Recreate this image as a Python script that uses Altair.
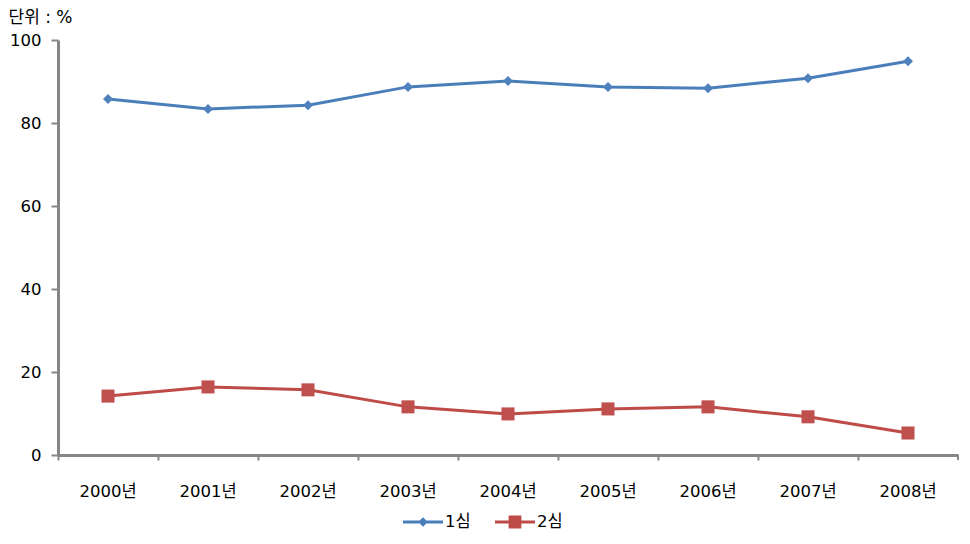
import altair as alt
import pandas as pd

years = ["2000년", "2001년", "2002년", "2003년", "2004년", "2005년", "2006년", "2007년", "2008년"]
first = [85.8, 83.4, 84.3, 88.7, 90.1, 88.7, 88.4, 90.8, 94.9]
second = [14.2, 16.4, 15.7, 11.6, 9.9, 11.1, 11.6, 9.2, 5.3]
series = ["1심", "2심"]

rows = []
for y, a, b in zip(years, first, second):
    rows.append({"year": y, "series": series[0], "value": a})
    rows.append({"year": y, "series": series[1], "value": b})
df = pd.DataFrame(rows)

colors = ["#4A7EBB", "#BE4B48"]
marker_colors = ["#4F81BD", "#C0504D"]
AXIS_GRAY = "#868686"
FONT = "DejaVu Sans, Noto Sans CJK KR"
X_TICK = 5

x_scale = alt.Scale(type="band", paddingInner=0, paddingOuter=0)
x_axis = alt.Axis(bandPosition=0, labelAngle=0, tickSize=X_TICK, tickWidth=2,
                  tickColor=AXIS_GRAY, domainColor=AXIS_GRAY, domainWidth=3,
                  labelPadding=23, labelFontSize=16.5, labelFont=FONT,
                  labelColor="#000000", grid=False)
x = alt.X("year:N", sort=years, title=None, scale=x_scale, axis=x_axis)
y = alt.Y("value:Q", scale=alt.Scale(domain=[0, 100]),
          axis=alt.Axis(values=[0, 20, 40, 60, 80, 100], tickSize=7, tickWidth=2,
                        tickColor=AXIS_GRAY, domainColor=AXIS_GRAY, domainWidth=3,
                        labelPadding=10, labelFontSize=16.5, labelFont=FONT,
                        labelColor="#000000", grid=False,
                        title="단위 : %", titleAngle=0, titleX=-50, titleY=-23,
                        titleAlign="left", titleBaseline="middle",
                        titleFont=FONT, titleFontSize=17, titleFontWeight="normal",
                        titleColor="#000000"))

line = alt.Chart(df).mark_line(strokeWidth=3).encode(
    x=x, y=y,
    color=alt.Color("series:N", scale=alt.Scale(domain=series, range=colors), legend=None),
)

pts = alt.Chart(df).mark_point(filled=True, opacity=1).encode(
    x=x, y=y,
    color=alt.Color("series:N", scale=alt.Scale(domain=series, range=marker_colors), legend=None),
    shape=alt.Shape("series:N", scale=alt.Scale(domain=series, range=["diamond", "square"]), legend=None),
    size=alt.Size("series:N", scale=alt.Scale(domain=series, range=[100, 170]), legend=None),
)

# closing tick at the right end of the category axis
end_tick = alt.Chart(pd.DataFrame({"year": [years[-1]]})).mark_rule(
    color=AXIS_GRAY, strokeWidth=2
).encode(
    x=alt.X("year:N", sort=years, title=None, bandPosition=1, scale=x_scale, axis=x_axis),
    y=alt.value(415), y2=alt.value(415 + X_TICK),
)

leg_paths = [
    "M-1,-0.075H1V0.075H-1Z M0,-0.24L0.24,0L0,0.24L-0.24,0Z",
    "M-1,-0.075H1V0.075H-1Z M-0.32,-0.32H0.32V0.32H-0.32Z",
]
leg_x = [345, 437]

legend_layers = []
for i, s in enumerate(series):
    leg = alt.Legend(title=None, orient="none", direction="horizontal",
                     legendX=leg_x[i], legendY=462, symbolSize=1600,
                     symbolType=leg_paths[i], symbolOpacity=1, symbolStrokeWidth=0,
                     labelFont=FONT, labelFontSize=16.5, labelColor="#000000",
                     labelOffset=2)
    legend_layers.append(
        alt.Chart(df[df["series"] == s]).mark_point(filled=True, opacity=0).encode(
            x=x, y=y,
            fill=alt.Fill("series:N", scale=alt.Scale(domain=[s], range=[colors[i]]), legend=leg),
        )
    )

chart = alt.layer(line, pts, end_tick, *legend_layers).resolve_scale(
    shape="independent", color="independent", size="independent", fill="independent"
).resolve_legend(fill="independent").properties(
    width=900, height=415,
    autosize=alt.AutoSizeParams(type="none"),
    padding={"left": 50, "top": 32, "right": 4, "bottom": 81},
).configure_view(stroke=None)

chart.save("out.html", embed_options={"renderer": "svg", "actions": False})
